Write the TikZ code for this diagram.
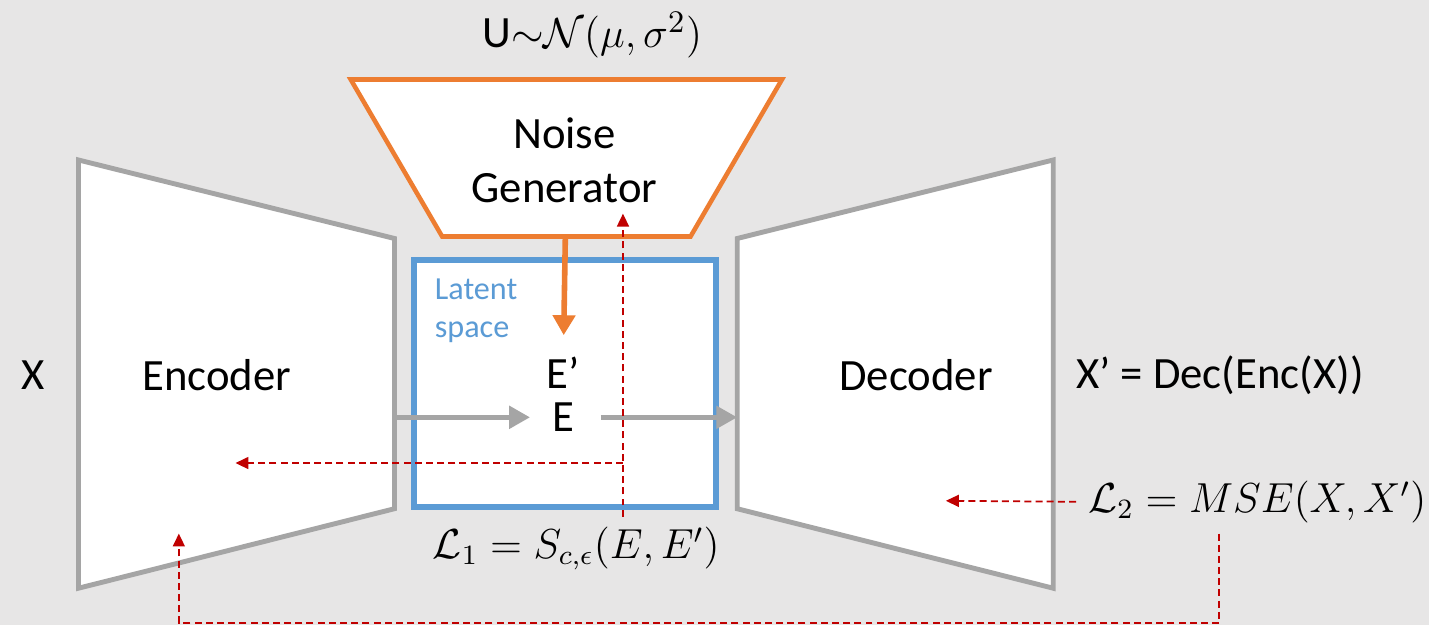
\documentclass[tikz,border=0pt]{standalone}
\usepackage{amsmath}
\usepackage{fontspec}
\setmainfont{Carlito}
\usetikzlibrary{arrows.meta,positioning}
\definecolor{bggray}{HTML}{E7E6E6}
\definecolor{blockgray}{HTML}{A5A5A5}
\definecolor{noiseorange}{HTML}{ED7D31}
\definecolor{latentblue}{HTML}{5B9BD5}
\definecolor{lossred}{HTML}{C00000}

\begin{document}
\begin{tikzpicture}[
  x=0.01cm, y=-0.01cm,
  block/.style={draw=blockgray, line width=1.4pt, fill=white, line join=miter},
  noisebox/.style={draw=noiseorange, line width=1.3pt, fill=white, line join=miter},
  latentbox/.style={draw=latentblue, line width=1.7pt, fill=white,
                    minimum width=3.04cm, minimum height=2.48cm},
  txt/.style={font=\fontsize{12.8}{15.4}\selectfont, align=center},
  tight/.style={txt, inner sep=0pt},
  small/.style={font=\fontsize{9.2}{10.8}\selectfont, text=latentblue, align=left, inner sep=0pt},
  eq/.style={font=\fontsize{12}{14}\selectfont},
  flow/.style={-{Triangle[length=2.1mm, width=2.2mm]}, draw=blockgray, line width=1.6pt},
  noiseflow/.style={-{Triangle[length=2mm, width=2.2mm]}, draw=noiseorange, line width=1.6pt},
  loss/.style={-{Triangle[length=1.3mm, width=1.2mm]}, draw=lossred, line width=0.5pt,
               dash pattern=on 2pt off 1.2pt}
]
\fill[bggray] (0,0) rectangle (1438,629);

% encoder, decoder, noise generator
\draw[block] (79,161) -- (397,240) -- (397,512) -- (79,592) -- cycle;
\draw[block] (742,240) -- (1060,161) -- (1060,592) -- (742,512) -- cycle;
\draw[noisebox] (353,80) -- (787,80) -- (695,238) -- (445,238) -- cycle;
\node[latentbox] (latent) at (569,386) {};

\node[txt] (enc) at (218,378) {Encoder};
\node[txt] (dec) at (922,378) {Decoder};
\node[txt] (noise) at (568,161) {Noise\\Generator};
\node[small, anchor=north west] (space) at (437,280) {Latent\\space};
\node[txt] (x) at (33,378) {X};
\node[txt] (xrec) at (1228,378) {X’ = Dec(Enc(X))};
\node[txt] (dist) at (596,35) {U$\mathord{\sim}\mathcal{N}(\mu,\sigma^2)$};

\node[tight] (eprime) at (567,375) {E’};
\node[tight] (e) at (567,420) {E};

\node[eq] (lone) at (580,552) {$\mathcal{L}_1 = S_{c,\epsilon}(E,E')$};
\node[eq, anchor=west] (ltwo) at (1083,505) {$\mathcal{L}_2 = MSE(X,X')$};

% connector ends
\coordinate (encout) at (397,420);
\coordinate (decin) at (742,420);
\coordinate (ngout) at (569,238);
\coordinate (ngin) at (627,215);
\coordinate (lup) at (627,520);
\coordinate (split) at (627,466);
\coordinate (encin) at (237,466);
\coordinate (decloss) at (952,504);
\coordinate (ldown) at (1227,537);
\coordinate (encin2) at (180,537);

\draw[flow, shorten >=6.2pt] (encout) -- (e.west);
\draw[flow, shorten <=7.4pt] (e.east) -- (decin);
\draw[noiseflow, shorten >=6pt] (ngout) -- (eprime.north);
\draw[loss] (lup) -- (ngin);
\draw[loss] (split) -- (encin);
\draw[loss] (ltwo.west) -- (decloss);
\draw[loss] (ldown) -- ++(0,90) -| (encin2);
\end{tikzpicture}
\end{document}
